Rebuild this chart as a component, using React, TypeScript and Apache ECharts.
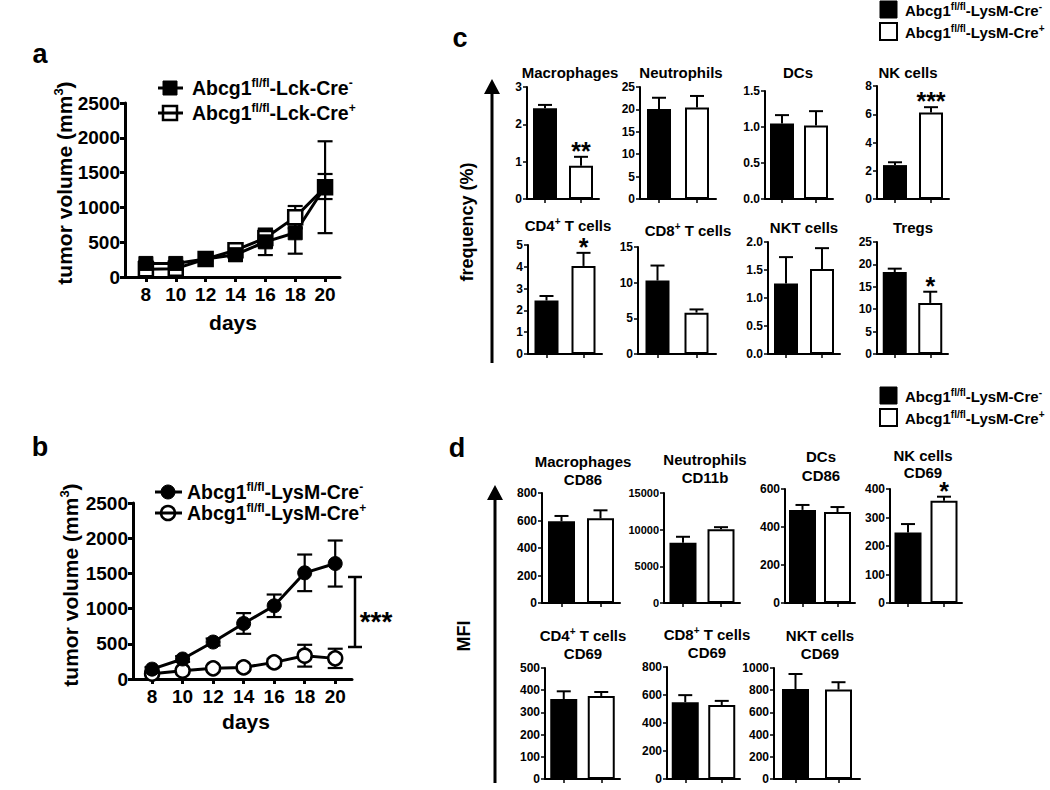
import React, { useEffect, useRef } from 'react';
import * as echarts from 'echarts';

const FONT = "'Liberation Sans', Arial, Helvetica, sans-serif";

// ---------------- Panel a : Lck-Cre tumour growth ----------------
const DAYS = [8, 10, 12, 14, 16, 18, 20];
const DAY_TICKS = [8, 10, 12, 14, 16, 18, 20];
const VOLUME_MAX = 2500;
const VOLUME_STEP = 500;
const LCK_NEG = [195, 195, 258, 320, 505, 635, 1300];
const LCK_NEG_ERR = [35, 30, 30, 90, 190, 300, 180];
const LCK_POS = [110, 120, 258, 385, 560, 860, 1290];
const LCK_POS_ERR = [40, 40, 30, 70, 130, 160, 660];

// ---------------- Panel b : LysM-Cre tumour growth ----------------
const LYS_NEG = [140, 284, 525, 789, 1040, 1508, 1640];
const LYS_NEG_ERR = [30, 40, 50, 147, 160, 260, 327];
const LYS_POS = [75, 118, 151, 165, 236, 331, 293];
const LYS_POS_ERR = [20, 25, 30, 35, 50, 155, 137];

// ---------------- Panel c : frequency (%) [Cre-, Cre+] ----------------
const C_TITLES = ['Macrophages', 'Neutrophils', 'DCs', 'NK cells', 'CD4^{+} T cells', 'CD8^{+} T cells', 'NKT cells', 'Tregs'];
const C_MACRO = [2.43, 0.89];
const C_MACRO_ERR = [0.09, 0.24];
const C_NEUT = [20.1, 20.4];
const C_NEUT_ERR = [2.5, 2.6];
const C_DC = [1.05, 1.02];
const C_DC_ERR = [0.115, 0.2];
const C_NK = [2.4, 6.12];
const C_NK_ERR = [0.2, 0.38];
const C_CD4 = [2.45, 4.04];
const C_CD4_ERR = [0.21, 0.6];
const C_CD8 = [10.3, 5.8];
const C_CD8_ERR = [2.1, 0.45];
const C_NKT = [1.26, 1.52];
const C_NKT_ERR = [0.47, 0.37];
const C_TREG = [18.3, 11.4];
const C_TREG_ERR = [0.75, 2.5];
const C_STARS = [['', '**'], ['', ''], ['', ''], ['', '***'], ['', '*'], ['', ''], ['', ''], ['', '*']];
const C_MAX = [3, 25, 1.5, 8, 5, 15, 2, 25];
const C_STEP = [1, 5, 0.5, 2, 1, 5, 0.5, 5];

// ---------------- Panel d : MFI [Cre-, Cre+] ----------------
const D_TITLES = [
  ['Macrophages', 'CD86'], ['Neutrophils', 'CD11b'], ['DCs', 'CD86'], ['NK cells', 'CD69'],
  ['CD4^{+} T cells', 'CD69'], ['CD8^{+} T cells', 'CD69'], ['NKT cells', 'CD69'],
];
const D_MACRO = [594, 616];
const D_MACRO_ERR = [39, 58];
const D_NEUT = [8200, 10040];
const D_NEUT_ERR = [830, 300];
const D_DC = [490, 479];
const D_DC_ERR = [26, 26];
const D_NK = [247, 359];
const D_NK_ERR = [30, 14];
const D_CD4 = [360, 374];
const D_CD4_ERR = [35, 18];
const D_CD8 = [549, 528];
const D_CD8_ERR = [50, 30];
const D_NKT = [811, 806];
const D_NKT_ERR = [135, 66];
const D_STARS = [['', ''], ['', ''], ['', ''], ['', '*'], ['', ''], ['', ''], ['', '']];
const D_MAX = [800, 15000, 600, 400, 500, 800, 1000];
const D_STEP = [200, 5000, 200, 100, 100, 200, 200];

const GROUP_NAMES = ['Cre-', 'Cre+'];
const LEGEND_LCK = ['Abcg1^{fl/fl}-Lck-Cre^{-}', 'Abcg1^{fl/fl}-Lck-Cre^{+}'];
const LEGEND_LYS = ['Abcg1^{fl/fl}-LysM-Cre^{-}', 'Abcg1^{fl/fl}-LysM-Cre^{+}'];

// ---------------- layout (pixels) ----------------
const C_LAYOUT = [
  { left: 527, top: 87, width: 72, height: 112, tx: 570, ty: 72 },
  { left: 640, top: 87, width: 76, height: 112, tx: 681, ty: 72 },
  { left: 765, top: 91, width: 68, height: 108, tx: 798, ty: 72 },
  { left: 877, top: 86, width: 72, height: 113, tx: 908, ty: 72 },
  { left: 528, top: 245, width: 74, height: 109, tx: 568, ty: 225 },
  { left: 638, top: 247, width: 78, height: 107, tx: 688, ty: 230 },
  { left: 768, top: 242, width: 72, height: 112, tx: 804, ty: 227 },
  { left: 877, top: 242, width: 71, height: 112, tx: 913, ty: 227 },
];
const D_LAYOUT = [
  { left: 542, top: 493, width: 78, height: 110, tx: 583, ty: [461, 479] },
  { left: 664, top: 493, width: 76, height: 110, tx: 705, ty: [459, 477] },
  { left: 785, top: 489, width: 70, height: 114, tx: 821, ty: [456, 475] },
  { left: 890, top: 489, width: 72, height: 114, tx: 923, ty: [455, 472] },
  { left: 545, top: 668, width: 75, height: 111, tx: 583, ty: [635, 653] },
  { left: 667, top: 667, width: 73, height: 112, tx: 707, ty: [634, 652] },
  { left: 774, top: 668, width: 86, height: 111, tx: 820, ty: [635, 653] },
];

function rich(s: string) {
  const parts = s.split(/\^\{([^}]*)\}/);
  return parts.map((p, i) => (p ? (i % 2 ? `{s|${p}}` : `{n|${p}}`) : '')).join('');
}
function richStyles(size: number, sup: number) {
  return {
    n: { fontSize: size, fontWeight: 'bold', fontFamily: FONT, fill: '#000', color: '#000', lineHeight: Math.round(size * 1.15) },
    s: { fontSize: sup, fontWeight: 'bold', fontFamily: FONT, fill: '#000', color: '#000', verticalAlign: 'top', lineHeight: Math.round(sup * 1.1) },
  };
}
function text(x: number, y: number, s: string, size: number, opt: any = {}) {
  return {
    type: 'text', x, y, silent: true, rotation: opt.rot || 0, z: 10,
    style: {
      text: rich(s), rich: richStyles(size, opt.sup || Math.round(size * 0.62)),
      fontSize: size, fontWeight: 'bold', fontFamily: FONT, fill: '#000',
      align: opt.align || 'center', verticalAlign: 'middle',
      textAlign: opt.align || 'center', textVerticalAlign: 'middle',
    },
  };
}
function line(x1: number, y1: number, x2: number, y2: number, w: number) {
  return { type: 'line', silent: true, z: 10, shape: { x1, y1, x2, y2 }, style: { stroke: '#000', lineWidth: w } };
}

function lineErr(_p: any, api: any) {
  const x = api.value(0), v = api.value(1), e = api.value(2);
  const lo = api.coord([x, v - e]);
  const hi = api.coord([x, v + e]);
  const c = 7.5;
  const st = { stroke: '#000', lineWidth: 2.2 };
  return {
    type: 'group',
    children: [
      { type: 'line', shape: { x1: lo[0], y1: lo[1], x2: hi[0], y2: hi[1] }, style: st },
      { type: 'line', shape: { x1: lo[0] - c, y1: lo[1], x2: lo[0] + c, y2: lo[1] }, style: st },
      { type: 'line', shape: { x1: hi[0] - c, y1: hi[1], x2: hi[0] + c, y2: hi[1] }, style: st },
    ],
  };
}
function barErr(stars: string[]) {
  return (p: any, api: any) => {
    const i = api.value(0), v = api.value(1), e = api.value(2);
    const b = api.coord([i, v]);
    const t = api.coord([i, v + e]);
    const c = 7;
    const st = { stroke: '#000', lineWidth: 2 };
    const children: any[] = [
      { type: 'line', shape: { x1: b[0], y1: b[1], x2: t[0], y2: t[1] }, style: st },
      { type: 'line', shape: { x1: t[0] - c, y1: t[1], x2: t[0] + c, y2: t[1] }, style: st },
    ];
    const s = stars[p.dataIndex];
    if (s) {
      children.push({
        type: 'text', x: t[0], y: t[1] - 6,
        style: { text: s, fontSize: 25, lineHeight: 18, fontWeight: 'bold', fontFamily: FONT, fill: '#000', align: 'center', verticalAlign: 'middle', textAlign: 'center', textVerticalAlign: 'middle' },
      });
    }
    return { type: 'group', children };
  };
}

function buildOption() {
  const grid: any[] = [];
  const xAxis: any[] = [];
  const yAxis: any[] = [];
  const series: any[] = [];
  const graphic: any[] = [];

  const lineAxisLabel = { fontSize: 19, fontWeight: 'bold', fontFamily: FONT, color: '#000' };
  const addLinePanel = (L: any, groups: any[]) => {
    const gi = grid.length;
    grid.push({ left: L.left, top: L.top, width: L.width, height: L.height });
    xAxis.push({
      type: 'value', gridIndex: gi, min: L.xmin, max: L.xmax,
      axisLine: { show: true, onZero: false, lineStyle: { color: '#000', width: 3 } },
      axisTick: { show: true, customValues: DAY_TICKS, length: 5, lineStyle: { color: '#000', width: 3 } },
      axisLabel: { ...lineAxisLabel, customValues: DAY_TICKS, margin: 8, formatter: (v: number) => String(v) },
      splitLine: { show: false },
    });
    yAxis.push({
      type: 'value', gridIndex: gi, min: 0, max: VOLUME_MAX, interval: VOLUME_STEP,
      axisLine: { show: true, onZero: false, lineStyle: { color: '#000', width: 3 } },
      axisTick: { show: true, length: 5, lineStyle: { color: '#000', width: 3 } },
      axisLabel: { ...lineAxisLabel, margin: 5, formatter: (v: number) => String(v) },
      splitLine: { show: false },
    });
    groups.forEach((g) =>
      series.push({
        type: 'custom', name: g.name + ' err', xAxisIndex: gi, yAxisIndex: gi, z: 1, silent: true,
        renderItem: lineErr, encode: { x: 0, y: 1 },
        data: DAYS.map((d, i) => [d, g.vals[i], g.errs[i]]),
      })
    );
    groups.forEach((g) =>
      series.push({
        type: 'line', name: g.name, xAxisIndex: gi, yAxisIndex: gi, z: 3, silent: true,
        data: DAYS.map((d, i) => [d, g.vals[i]]),
        symbol: g.symbol, symbolSize: 14, showSymbol: true,
        lineStyle: { color: '#000', width: 3 },
        itemStyle: g.filled ? { color: '#000', borderColor: '#000', borderWidth: 1 } : { color: '#fff', borderColor: '#000', borderWidth: 2.5 },
      })
    );
  };

  addLinePanel({ left: 125, top: 103, width: 215, height: 174, xmin: 6.6, xmax: 21 }, [
    { name: 'Lck ' + GROUP_NAMES[1], vals: LCK_POS, errs: LCK_POS_ERR, symbol: 'rect', filled: false },
    { name: 'Lck ' + GROUP_NAMES[0], vals: LCK_NEG, errs: LCK_NEG_ERR, symbol: 'rect', filled: true },
  ]);
  addLinePanel({ left: 133, top: 503, width: 219, height: 176, xmin: 6.75, xmax: 21.1 }, [
    { name: 'LysM ' + GROUP_NAMES[1], vals: LYS_POS, errs: LYS_POS_ERR, symbol: 'circle', filled: false },
    { name: 'LysM ' + GROUP_NAMES[0], vals: LYS_NEG, errs: LYS_NEG_ERR, symbol: 'circle', filled: true },
  ]);

  const addBarPanel = (L: any, vals: number[], errs: number[], stars: string[], max: number, step: number, barW: number, labelSize: number) => {
    const gi = grid.length;
    const dec = step < 1 ? 1 : 0;
    grid.push({ left: L.left, top: L.top, width: L.width, height: L.height });
    xAxis.push({
      type: 'category', gridIndex: gi, data: GROUP_NAMES, boundaryGap: true,
      axisLine: { show: true, lineStyle: { color: '#000', width: 2 } },
      axisTick: { show: true, alignWithLabel: true, interval: 0, length: 4, lineStyle: { color: '#000', width: 1.5 } },
      axisLabel: { show: false },
      splitLine: { show: false },
    });
    yAxis.push({
      type: 'value', gridIndex: gi, min: 0, max, interval: step,
      axisLine: { show: true, lineStyle: { color: '#000', width: 2 } },
      axisTick: { show: true, length: 4, lineStyle: { color: '#000', width: 1.5 } },
      axisLabel: {
        fontSize: labelSize, fontWeight: 'bold', fontFamily: FONT, color: '#000', margin: 5,
        formatter: (v: number) => v.toFixed(dec),
      },
      splitLine: { show: false },
    });
    series.push({
      type: 'bar', xAxisIndex: gi, yAxisIndex: gi, barWidth: barW, silent: true, z: 2,
      data: vals.map((v, i) => ({
        value: v,
        itemStyle: i === 0 ? { color: '#000', borderColor: '#000', borderWidth: 0 } : { color: '#fff', borderColor: '#000', borderWidth: 2 },
      })),
    });
    series.push({
      type: 'custom', xAxisIndex: gi, yAxisIndex: gi, z: 3, silent: true,
      renderItem: barErr(stars), encode: { x: 0, y: 1 },
      data: vals.map((v, i) => [i, v, errs[i]]),
    });
  };

  const cVals = [C_MACRO, C_NEUT, C_DC, C_NK, C_CD4, C_CD8, C_NKT, C_TREG];
  const cErrs = [C_MACRO_ERR, C_NEUT_ERR, C_DC_ERR, C_NK_ERR, C_CD4_ERR, C_CD8_ERR, C_NKT_ERR, C_TREG_ERR];
  C_LAYOUT.forEach((L, k) => {
    addBarPanel(L, cVals[k], cErrs[k], C_STARS[k], C_MAX[k], C_STEP[k], 24, 12);
    graphic.push(text(L.tx, L.ty, C_TITLES[k], 15, { sup: 10 }));
  });
  const dVals = [D_MACRO, D_NEUT, D_DC, D_NK, D_CD4, D_CD8, D_NKT];
  const dErrs = [D_MACRO_ERR, D_NEUT_ERR, D_DC_ERR, D_NK_ERR, D_CD4_ERR, D_CD8_ERR, D_NKT_ERR];
  D_LAYOUT.forEach((L, k) => {
    addBarPanel(L, dVals[k], dErrs[k], D_STARS[k], D_MAX[k], D_STEP[k], 27, k === 1 ? 11 : 12);
    graphic.push(text(L.tx, L.ty[0], D_TITLES[k][0], 15, { sup: 10 }));
    graphic.push(text(L.tx, L.ty[1], D_TITLES[k][1], 15, { sup: 10 }));
  });

  // panel letters
  graphic.push(text(40, 54, 'a', 27));
  graphic.push(text(40, 447, 'b', 27));
  graphic.push(text(460, 38, 'c', 27));
  graphic.push(text(457, 448, 'd', 27));

  // axis names a / b
  graphic.push(text(64, 183, 'tumor volume (mm^{3})', 21, { rot: Math.PI / 2, sup: 13 }));
  graphic.push(text(233, 322, 'days', 21));
  graphic.push(text(70, 585, 'tumor volume (mm^{3})', 21, { rot: Math.PI / 2, sup: 13 }));
  graphic.push(text(246, 721, 'days', 21));

  // legend a (squares)
  [88, 113].forEach((y, i) => {
    graphic.push(line(158, y, 183, y, 3));
    graphic.push({ type: 'rect', silent: true, z: 11, shape: { x: 163, y: y - 7, width: 14, height: 14 }, style: i === 0 ? { fill: '#000', stroke: '#000', lineWidth: 1 } : { fill: 'none', stroke: '#000', lineWidth: 2.5 } });
    graphic.push(text(192, y, LEGEND_LCK[i], 19.5, { align: 'left', sup: 12 }));
  });
  // legend b (circles)
  [492, 513].forEach((y, i) => {
    graphic.push(line(155, y, 182, y, 3));
    graphic.push({ type: 'circle', silent: true, z: 11, shape: { cx: 168, cy: y, r: 7 }, style: i === 0 ? { fill: '#000', stroke: '#000', lineWidth: 1 } : { fill: 'none', stroke: '#000', lineWidth: 2.5 } });
    graphic.push(text(187, y, LEGEND_LYS[i], 19.5, { align: 'left', sup: 12 }));
  });
  // significance bracket b
  graphic.push(line(355, 577, 355, 647, 2.5));
  graphic.push(line(348, 577, 362, 577, 2.5));
  graphic.push(line(348, 647, 362, 647, 2.5));
  graphic.push({
    type: 'text', x: 376, y: 621, silent: true, z: 10,
    style: { text: '***', fontSize: 28, fontWeight: 'bold', fontFamily: FONT, fill: '#000', align: 'center', verticalAlign: 'middle', textAlign: 'center', textVerticalAlign: 'middle' },
  });

  // legends c and d (bars)
  [[9, 31], [395, 417]].forEach((ys) => {
    ys.forEach((y, i) => {
      graphic.push({ type: 'rect', silent: true, z: 11, shape: { x: 880, y: y - 8, width: 17, height: 17 }, style: i === 0 ? { fill: '#000', stroke: '#000', lineWidth: 1 } : { fill: '#fff', stroke: '#000', lineWidth: 2 } });
      graphic.push(text(905, y + 1, LEGEND_LYS[i], 15, { align: 'left', sup: 10 }));
    });
  });

  // y-axis titles with arrows, c and d
  graphic.push(text(467, 222, 'frequency (%)', 18, { rot: Math.PI / 2 }));
  graphic.push(line(492, 363, 492, 90, 3));
  graphic.push({ type: 'polygon', silent: true, z: 10, shape: { points: [[492, 79], [484, 94], [500, 94]] }, style: { fill: '#000' } });
  graphic.push(text(464, 636, 'MFI', 18, { rot: Math.PI / 2 }));
  graphic.push(line(495, 783, 495, 496, 3));
  graphic.push({ type: 'polygon', silent: true, z: 10, shape: { points: [[495, 485], [487, 500], [503, 500]] }, style: { fill: '#000' } });

  return { animation: false, backgroundColor: '#fff', grid, xAxis, yAxis, series, graphic };
}

export default function App() {
  const ref = useRef<HTMLDivElement>(null);
  useEffect(() => {
    if (!ref.current) return;
    const chart = echarts.init(ref.current, null, { renderer: 'svg', width: 1050, height: 790 });
    chart.setOption(buildOption() as any);
    return () => chart.dispose();
  }, []);
  return <div ref={ref} style={{ position: 'absolute', left: 0, top: 0, width: 1050, height: 790, background: '#fff' }} />;
}
